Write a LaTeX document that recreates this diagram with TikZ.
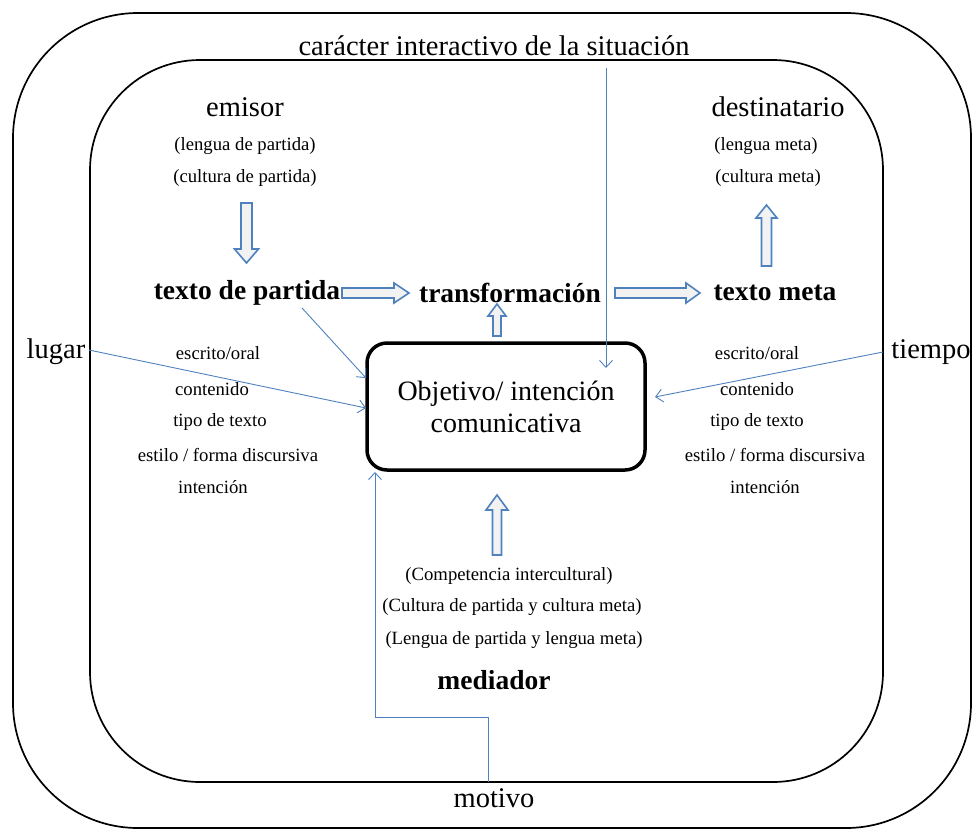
\documentclass[tikz,border=0pt]{standalone}
\usepackage{fontspec}
\setmainfont{Liberation Serif}
\usetikzlibrary{arrows.meta}
\definecolor{obl}{HTML}{4F81BD}
\definecolor{hfill}{HTML}{F2F2F2}
\tikzset{
  frame/.style={draw=black, line width=1.7pt},
  big/.style={font=\fontsize{28.5}{32}\selectfont, inner sep=0pt},
  bigb/.style={font=\fontsize{27.5}{32}\selectfont\bfseries, inner sep=0pt},
  small/.style={font=\fontsize{18.7}{22}\selectfont, inner sep=0pt},
  conn/.style={draw=obl, line width=0.9pt, -{Straight Barb[length=7pt,width=13pt]}},
  harrow/.style={draw=obl, line width=1.6pt, fill=hfill, line join=miter},
  objbox/.style={draw=black, line width=3.5pt, rounded corners=20pt, minimum width=278pt, minimum height=127pt, align=center, font=\fontsize{28}{32}\selectfont, inner sep=0pt}
}
\begin{document}
\begin{tikzpicture}[x=1pt,y=-1pt]
\useasboundingbox (0,0) rectangle (973,830);
% frames
\draw[frame, rounded corners=125pt] (13,13) rectangle (971,828);
\draw[frame, rounded corners=110pt] (90,60) rectangle (883,782);
% labels on frames
\node[big] (car) at (494,46) {carácter interactivo de la situación};
\node[big] (lugar) at (56,352) {lugar};
\node[big] (tiempo) at (931,352) {tiempo};
\node[big] (motivo) at (494,798) {motivo};
% emisor
\node[big] (emisor) at (245,107) {emisor};
\node[small] (lp) at (245,146) {(lengua de partida)};
\node[small] (cp) at (245,178) {(cultura de partida)};
% destinatario
\node[big] (dest) at (778,107) {destinatario};
\node[small] (lm) at (766,146) {(lengua meta)};
\node[small] (cm) at (768,178) {(cultura meta)};
% main row
\node[bigb] (tp) at (247,293) {texto de partida};
\node[bigb] (tr) at (510,293) {transformación};
\node[bigb] (tm) at (775,293) {texto meta};
% objective box
\node[objbox] (obj) at (506,406.5) {Objetivo/ intención\\comunicativa};
% left list
\node[small] (l1) at (218,353) {escrito/oral};
\node[small] (l2) at (212,389) {contenido};
\node[small] (l3) at (220,422) {tipo de texto};
\node[small] (l4) at (228,455) {estilo / forma discursiva};
\node[small] (l5) at (213,487) {intención};
% right list
\node[small] (r1) at (757,353) {escrito/oral};
\node[small] (r2) at (757,389) {contenido};
\node[small] (r3) at (757,422) {tipo de texto};
\node[small] (r4) at (775,455) {estilo / forma discursiva};
\node[small] (r5) at (765,487) {intención};
% mediador
\node[small] (m1) at (509,576) {(Competencia intercultural)};
\node[small] (m2) at (512,607) {(Cultura de partida y cultura meta)};
\node[small] (m3) at (514,640) {(Lengua de partida y lengua meta)};
\node[bigb] (med) at (494,680) {mediador};
% hollow block arrows
\draw[harrow] (241,203) -- (252,203) -- (252,249) -- (258.5,249) -- (246.5,263) -- (234.5,249) -- (241,249) -- cycle;
\draw[harrow] (342,288) -- (394,288) -- (394,283) -- (409,293) -- (394,303) -- (394,298) -- (342,298) -- cycle;
\draw[harrow] (615,288) -- (686,288) -- (686,283) -- (700,293) -- (686,303) -- (686,298) -- (615,298) -- cycle;
\draw[harrow] (761.5,266) -- (771.5,266) -- (771.5,218) -- (777,218) -- (766.5,205) -- (756,218) -- (761.5,218) -- cycle;
\draw[harrow] (493,336) -- (501,336) -- (501,316) -- (506,316) -- (497,304) -- (488,316) -- (493,316) -- cycle;
\draw[harrow] (492.5,555) -- (501.5,555) -- (501.5,510) -- (508,510) -- (497,495) -- (486,510) -- (492.5,510) -- cycle;
% thin connectors
\coordinate (carS) at (606,68);
\coordinate (carE) at (606,368);
\coordinate (tpS) at (302,308);
\coordinate (tpE) at (366,378);
\coordinate (lugS) at (89,350);
\coordinate (lugE) at (366,408);
\coordinate (tieS) at (883,352);
\coordinate (tieE) at (655,397);
\coordinate (motS) at (488,782);
\coordinate (motE) at (375,472);
\draw[conn] (carS) -- (carE);
\draw[conn] (tpS) -- (tpE);
\draw[conn] (lugS) -- (lugE);
\draw[conn] (tieS) -- (tieE);
\draw[conn] (motS) -- (488,717) -- (375,717) -- (motE);
\end{tikzpicture}
\end{document}
